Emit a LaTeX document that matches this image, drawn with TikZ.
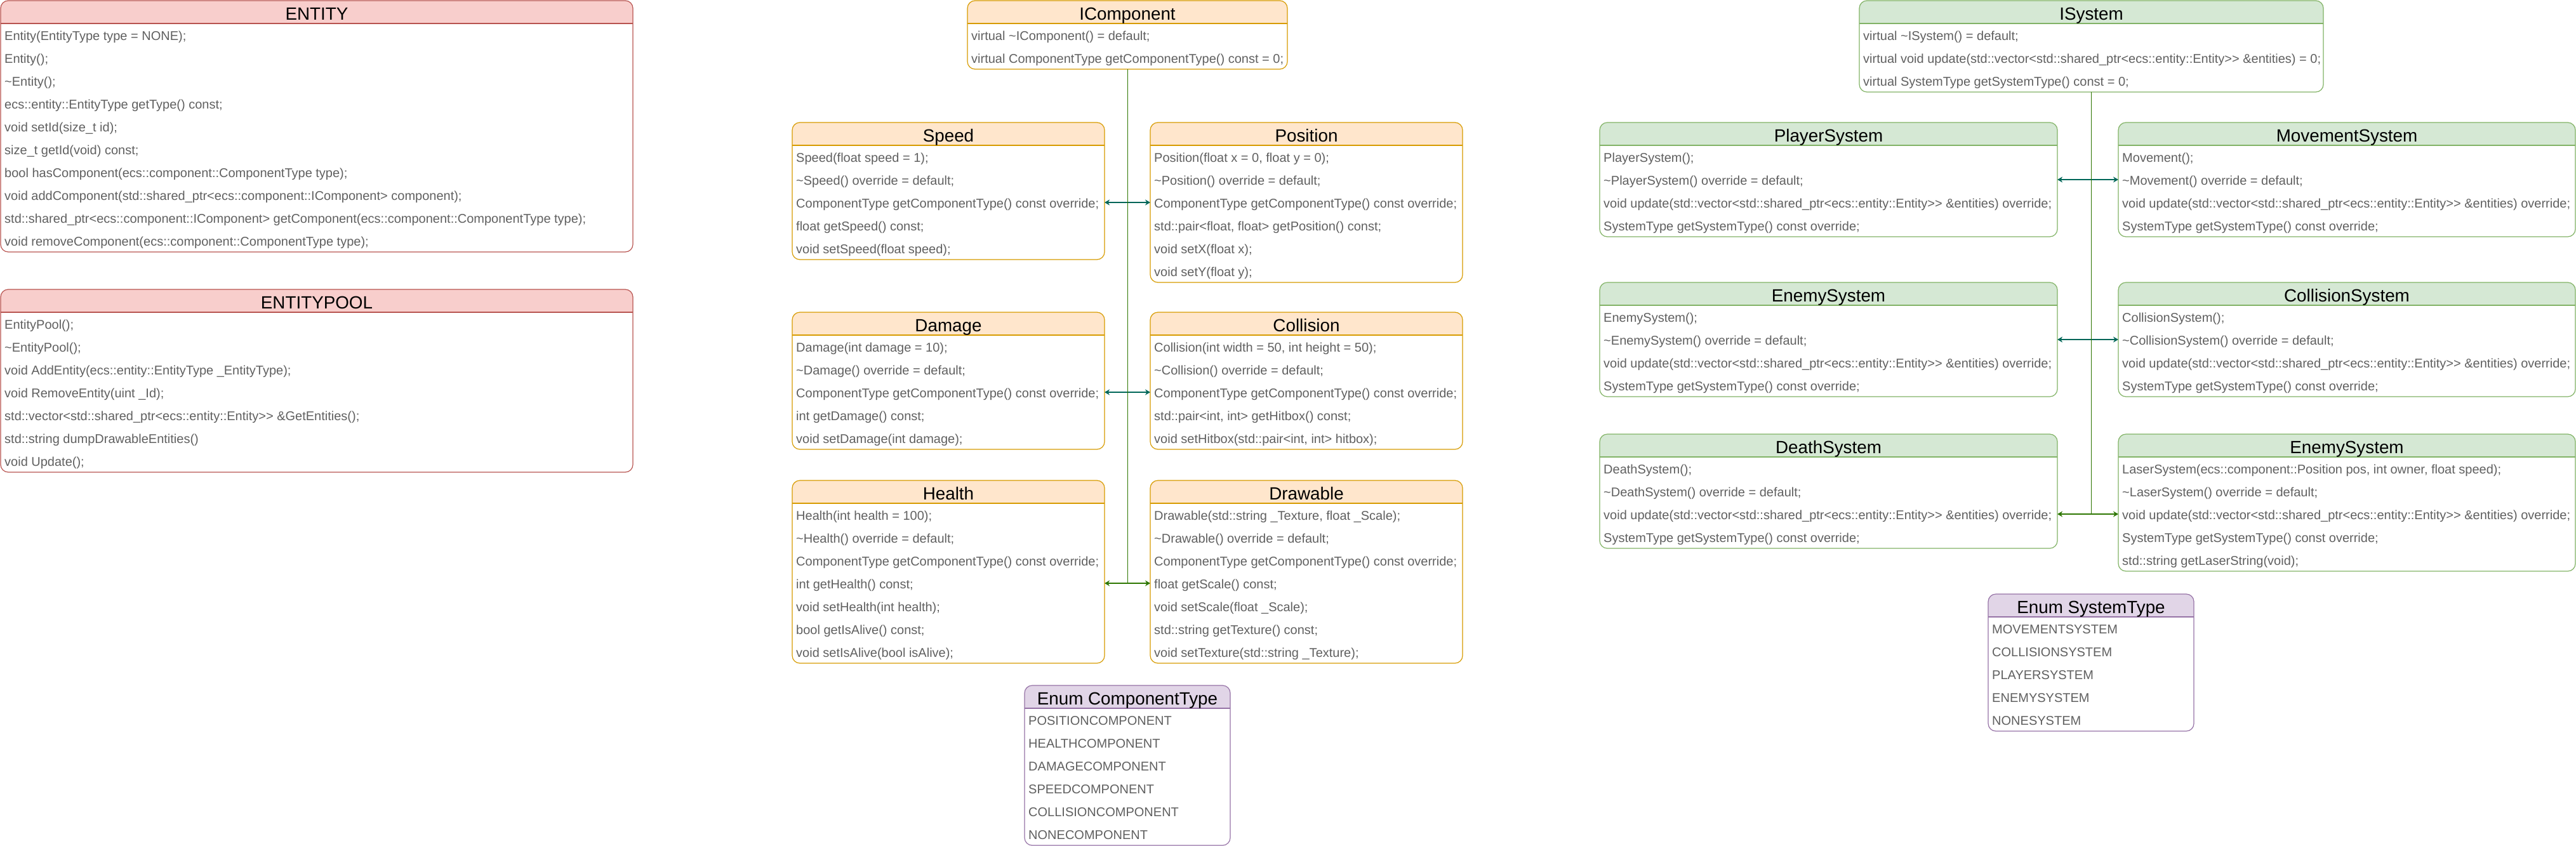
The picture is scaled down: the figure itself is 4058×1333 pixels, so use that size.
\documentclass[tikz,border=0pt]{standalone}
\usepackage{fontspec}
\setmainfont{Liberation Sans}
\usetikzlibrary{arrows.meta,calc}
\definecolor{redfill}{HTML}{F8CECC}\definecolor{redstroke}{HTML}{B85450}
\definecolor{orgfill}{HTML}{FFE6CC}\definecolor{orgstroke}{HTML}{D79B00}
\definecolor{grnfill}{HTML}{D5E8D4}\definecolor{grnstroke}{HTML}{82B366}
\definecolor{purfill}{HTML}{E1D5E7}\definecolor{purstroke}{HTML}{9673A6}
\definecolor{edgegreen}{HTML}{2D7600}
\definecolor{edgeteal}{HTML}{006658}
\definecolor{bodygray}{HTML}{606060}
\newcommand\tld{\textasciitilde}
\tikzset{
  classbox/.style={draw=#1stroke, fill=white, rounded corners=12pt, line width=1.2pt,
    inner sep=0pt, outer sep=0pt, anchor=north west,
    path picture={
      \fill[#1fill, sharp corners] (path picture bounding box.north west) rectangle ([yshift=-36pt]path picture bounding box.north east);
      \draw[#1stroke, line width=1.2pt, sharp corners] ([yshift=-36pt]path picture bounding box.north west) -- ([yshift=-36pt]path picture bounding box.north east);
    }},
  titletext/.style={inner sep=0pt, text height=27pt, text depth=3pt, font=\fontsize{27.8}{30}\selectfont, text=black},
  rowtext/.style={anchor=west, inner sep=0pt, text height=19.5pt, text depth=2.5pt, font=\fontsize{20}{22}\selectfont, text=bodygray},
  tealarr/.style={draw=edgeteal, line width=1.3pt, {Stealth[length=8pt,width=9pt,inset=2.5pt]}-{Stealth[length=8pt,width=9pt,inset=2.5pt]}},
  greenarr/.style={draw=edgegreen, line width=1.3pt, {Stealth[length=8pt,width=9pt,inset=2.5pt]}-{Stealth[length=8pt,width=9pt,inset=2.5pt]}},
  greenline/.style={draw=edgegreen, line width=1pt}
}
% #1 name, #2 x, #3 y, #4 width, #5 rows, #6 colour, #7 title, #8 rows
\newcommand\umlclass[8]{%
  \node[classbox=#6, minimum width=#4pt, minimum height={36*(#5+1)}] (#1) at (#2,#3) {};
  \node[titletext] (#1-t) at ([yshift=-18pt]#1.north) {#7};
  \foreach \rowtxt [count=\i] in {#8} {
    \pgfmathsetmacro\yy{36*\i+18}
    \node[rowtext] (#1-\i) at ([xshift=6pt,yshift=-\yy pt]#1.north west) {\rowtxt};
  }
}
\begin{document}
\begin{tikzpicture}[x=1pt,y=-1pt]
\useasboundingbox (0,0) rectangle (4058,1333);

% ---------- entities ----------
\umlclass{entity}{1}{1}{996}{10}{red}{ENTITY}{%
 {Entity(EntityType type = NONE);},
 {Entity();},
 {\tld Entity();},
 {ecs::entity::EntityType getType() const;},
 {void setId(size\_t id);},
 {size\_t getId(void) const;},
 {bool hasComponent(ecs::component::ComponentType type);},
 {void addComponent(std::shared\_ptr<ecs::component::IComponent> component);},
 {std::shared\_ptr<ecs::component::IComponent> getComponent(ecs::component::ComponentType type);},
 {void removeComponent(ecs::component::ComponentType type);}}

\umlclass{pool}{1}{456}{996}{7}{red}{ENTITYPOOL}{%
 {EntityPool();},
 {\tld EntityPool();},
 {void AddEntity(ecs::entity::EntityType \_EntityType);},
 {void RemoveEntity(uint \_Id);},
 {std::vector<std::shared\_ptr<ecs::entity::Entity>{}> \&GetEntities();},
 {std::string dumpDrawableEntities()},
 {void Update();}}

% ---------- components ----------
\umlclass{icomp}{1524}{1}{504}{2}{org}{IComponent}{%
 {virtual \tld IComponent() = default;},
 {virtual ComponentType getComponentType() const = 0;}}

\umlclass{speed}{1248}{193}{492}{5}{org}{Speed}{%
 {Speed(float speed = 1);},
 {\tld Speed() override = default;},
 {ComponentType getComponentType() const override;},
 {float getSpeed() const;},
 {void setSpeed(float speed);}}

\umlclass{position}{1812}{193}{492}{6}{org}{Position}{%
 {Position(float x = 0, float y = 0);},
 {\tld Position() override = default;},
 {ComponentType getComponentType() const override;},
 {std::pair<float, float> getPosition() const;},
 {void setX(float x);},
 {void setY(float y);}}

\umlclass{damage}{1248}{492}{492}{5}{org}{Damage}{%
 {Damage(int damage = 10);},
 {\tld Damage() override = default;},
 {ComponentType getComponentType() const override;},
 {int getDamage() const;},
 {void setDamage(int damage);}}

\umlclass{collision}{1812}{492}{492}{5}{org}{Collision}{%
 {Collision(int width = 50, int height = 50);},
 {\tld Collision() override = default;},
 {ComponentType getComponentType() const override;},
 {std::pair<int, int> getHitbox() const;},
 {void setHitbox(std::pair<int, int> hitbox);}}

\umlclass{health}{1248}{757}{492}{7}{org}{Health}{%
 {Health(int health = 100);},
 {\tld Health() override = default;},
 {ComponentType getComponentType() const override;},
 {int getHealth() const;},
 {void setHealth(int health);},
 {bool getIsAlive() const;},
 {void setIsAlive(bool isAlive);}}

\umlclass{drawable}{1812}{757}{492}{7}{org}{Drawable}{%
 {Drawable(std::string \_Texture, float \_Scale);},
 {\tld Drawable() override = default;},
 {ComponentType getComponentType() const override;},
 {float getScale() const;},
 {void setScale(float \_Scale);},
 {std::string getTexture() const;},
 {void setTexture(std::string \_Texture);}}

\umlclass{enumcomp}{1614}{1080}{324}{6}{pur}{Enum ComponentType}{%
 POSITIONCOMPONENT, HEALTHCOMPONENT, DAMAGECOMPONENT, SPEEDCOMPONENT, COLLISIONCOMPONENT, NONECOMPONENT}

% ---------- systems ----------
\umlclass{isystem}{2929}{1}{731}{3}{grn}{ISystem}{%
 {virtual \tld ISystem() = default;},
 {virtual void update(std::vector<std::shared\_ptr<ecs::entity::Entity>{}> \&entities) = 0;},
 {virtual SystemType getSystemType() const = 0;}}

\umlclass{player}{2520}{193}{721}{4}{grn}{PlayerSystem}{%
 {PlayerSystem();},
 {\tld PlayerSystem() override = default;},
 {void update(std::vector<std::shared\_ptr<ecs::entity::Entity>{}> \&entities) override;},
 {SystemType getSystemType() const override;}}

\umlclass{movement}{3337}{193}{720}{4}{grn}{MovementSystem}{%
 {Movement();},
 {\tld Movement() override = default;},
 {void update(std::vector<std::shared\_ptr<ecs::entity::Entity>{}> \&entities) override;},
 {SystemType getSystemType() const override;}}

\umlclass{enemy}{2520}{445}{721}{4}{grn}{EnemySystem}{%
 {EnemySystem();},
 {\tld EnemySystem() override = default;},
 {void update(std::vector<std::shared\_ptr<ecs::entity::Entity>{}> \&entities) override;},
 {SystemType getSystemType() const override;}}

\umlclass{collsys}{3337}{445}{720}{4}{grn}{CollisionSystem}{%
 {CollisionSystem();},
 {\tld CollisionSystem() override = default;},
 {void update(std::vector<std::shared\_ptr<ecs::entity::Entity>{}> \&entities) override;},
 {SystemType getSystemType() const override;}}

\umlclass{death}{2520}{684}{721}{4}{grn}{DeathSystem}{%
 {DeathSystem();},
 {\tld DeathSystem() override = default;},
 {void update(std::vector<std::shared\_ptr<ecs::entity::Entity>{}> \&entities) override;},
 {SystemType getSystemType() const override;}}

\umlclass{laser}{3337}{684}{720}{5}{grn}{EnemySystem}{%
 {LaserSystem(ecs::component::Position pos, int owner, float speed);},
 {\tld LaserSystem() override = default;},
 {void update(std::vector<std::shared\_ptr<ecs::entity::Entity>{}> \&entities) override;},
 {SystemType getSystemType() const override;},
 {std::string getLaserString(void);}}

\umlclass{enumsys}{3132}{936}{324}{5}{pur}{Enum SystemType}{%
 MOVEMENTSYSTEM, COLLISIONSYSTEM, PLAYERSYSTEM, ENEMYSYSTEM, NONESYSTEM}

% ---------- connectors ----------
\draw[tealarr] (speed.east |- speed-3.west) -- (position.west |- speed-3.west);
\draw[tealarr] (damage.east |- damage-3.west) -- (collision.west |- damage-3.west);
\draw[greenarr] (health.east |- health-4.west) -- (drawable.west |- health-4.west);
\coordinate (cjunc) at (icomp.south |- health-4.west);
\draw[greenline] (icomp.south) -- (cjunc);

\draw[tealarr] (player.east |- player-2.west) -- (movement.west |- player-2.west);
\draw[tealarr] (enemy.east |- enemy-2.west) -- (collsys.west |- enemy-2.west);
\draw[greenarr] (death.east |- death-3.west) -- (laser.west |- death-3.west);
\coordinate (sjunc) at (isystem.south |- death-3.west);
\draw[greenline] (isystem.south) -- (sjunc);
\end{tikzpicture}
\end{document}
